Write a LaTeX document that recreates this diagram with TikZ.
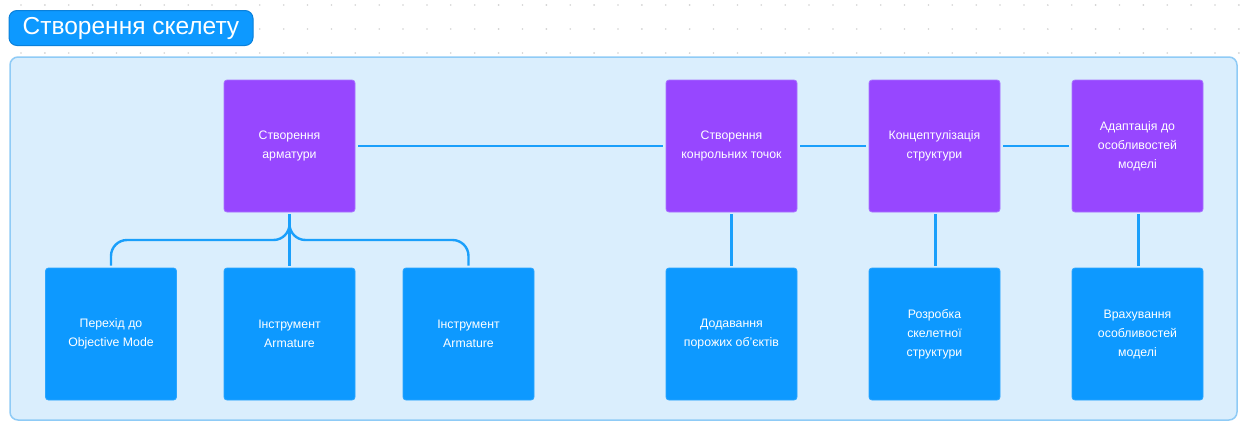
\documentclass[tikz,border=0pt]{standalone}
\usepackage{fontspec}
\setmainfont{Liberation Sans}
\definecolor{stepPurple}{HTML}{9747FF}
\definecolor{stepPurpleEdge}{HTML}{A872FF}
\definecolor{taskBlue}{HTML}{0D99FF}
\definecolor{taskBlueEdge}{HTML}{2AA5FF}
\definecolor{panelFill}{HTML}{DAEEFD}
\definecolor{panelEdge}{HTML}{8FCBF6}
\definecolor{linkBlue}{HTML}{1A9FFB}
\definecolor{gridDot}{HTML}{D2D2D2}
\definecolor{titleEdge}{HTML}{0A80DA}
\tikzset{
  stepbox/.style={rectangle, rounded corners=3pt, fill=stepPurple, draw=stepPurpleEdge,
    line width=0.8pt, minimum width=131pt, minimum height=132pt, inner sep=0pt,
    text=white, align=center, font=\fontsize{12.3}{19}\selectfont},
  taskbox/.style={stepbox, fill=taskBlue, draw=taskBlueEdge},
  link/.style={draw=linkBlue, line width=2.4pt},
}
\begin{document}
\begin{tikzpicture}[x=1pt, y=-1pt]
  \useasboundingbox (0,0) rectangle (1243,421);
  \fill[white] (0,0) rectangle (1243,421);

  % dotted canvas grid
  \foreach \r in {5,29,53}
    \foreach \i in {0,...,51}
      \fill[gridDot] ({21+23.88*\i},\r) circle (0.9pt);

  % title badge
  \node[rectangle, rounded corners=8pt, fill=taskBlue, draw=titleEdge, line width=1pt,
        minimum width=244pt, minimum height=35pt, inner sep=0pt, text=white,
        font=\fontsize{24.5}{28}\selectfont] (title) at (131,28) {Створення скелету};

  % section panel
  \draw[fill=panelFill, draw=panelEdge, line width=1.5pt, rounded corners=8pt]
    (10,57) rectangle (1237,420);

  % main steps
  \node[stepbox] (s1) at (289.5,146) {Створення\\арматури};
  \node[stepbox] (s2) at (731.5,146) {Створення\\конрольних точок};
  \node[stepbox] (s3) at (934.5,146) {Концептулізація\\структури};
  \node[stepbox] (s4) at (1137.5,146) {Адаптація до\\особливостей\\моделі};

  % sub-tasks
  \node[taskbox] (t1) at (111,334) {Перехід до\\Objective Mode};
  \node[taskbox] (t2) at (289.5,334) {Інструмент\\Armature};
  \node[taskbox] (t3) at (468.5,334) {Інструмент\\Armature};
  \node[taskbox] (t4) at (731.5,334) {Додавання\\порожих об’єктів};
  \node[taskbox] (t5) at (934.5,334) {Розробка\\скелетної\\структури};
  \node[taskbox] (t6) at (1137.5,334) {Врахування\\особливостей\\моделі};

  % chain of main steps
  \draw[link] ([xshift=3pt]s1.east) -- ([xshift=-3pt]s2.west);
  \draw[link] ([xshift=3pt]s2.east) -- ([xshift=-3pt]s3.west);
  \draw[link] ([xshift=3pt]s3.east) -- ([xshift=-3pt]s4.west);

  % branching of the first step
  \coordinate (bus) at (0,240);
  \draw[link] ([yshift=-2pt]s1.south) -- ([yshift=2pt]t2.north);
  \draw[link, rounded corners=16pt] ([yshift=-2pt]s1.south) |- (t1.north |- bus) -- ([yshift=2pt]t1.north);
  \draw[link, rounded corners=16pt] ([yshift=-2pt]s1.south) |- (t3.north |- bus) -- ([yshift=2pt]t3.north);

  % steps to their tasks
  \draw[link] ([yshift=-2pt]s2.south) -- ([yshift=2pt]t4.north);
  \draw[link] ([xshift=1pt,yshift=-2pt]s3.south) -- ([xshift=1pt,yshift=2pt]t5.north);
  \draw[link] ([xshift=1pt,yshift=-2pt]s4.south) -- ([xshift=1pt,yshift=2pt]t6.north);
\end{tikzpicture}
\end{document}
